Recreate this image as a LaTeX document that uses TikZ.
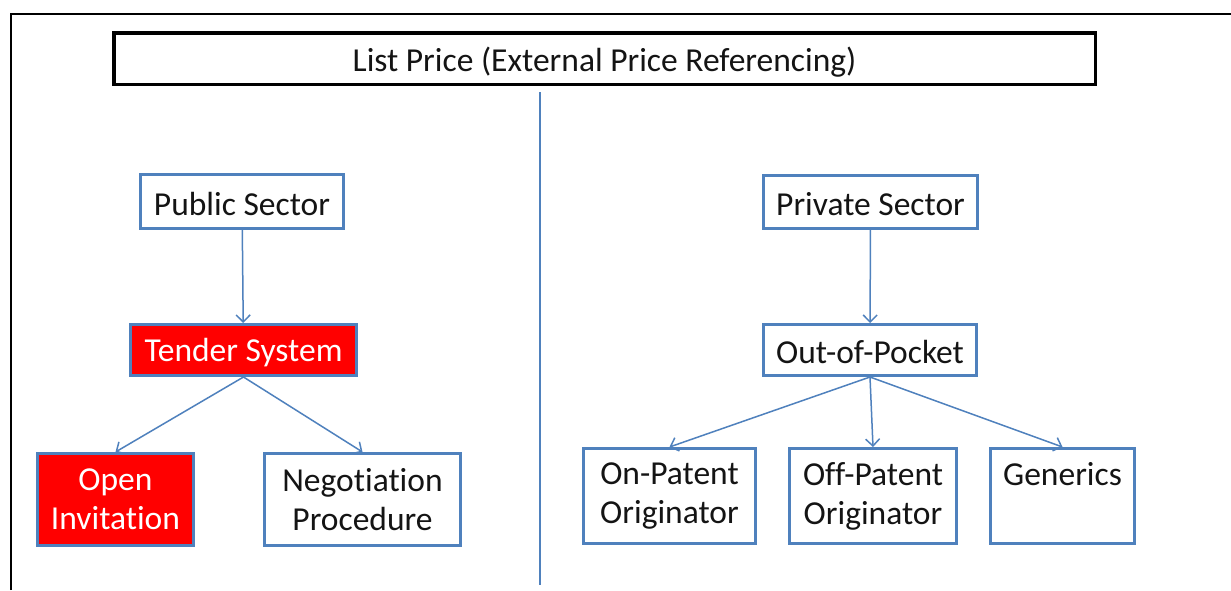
\documentclass[tikz,border=0pt]{standalone}
\usepackage{fontspec}
\setmainfont{Carlito}[Ligatures={NoCommon}]
\usetikzlibrary{arrows.meta}
\definecolor{boxblue}{RGB}{79,129,189}
\definecolor{tred}{RGB}{255,0,0}
\definecolor{txt}{RGB}{20,20,20}
\tikzset{
  bx/.style={draw=boxblue, line width=3pt, fill=white, inner sep=0pt, align=center,
    text=txt, font=\fontsize{33.5}{39}\selectfont,
    execute at begin node={\rule{0pt}{28pt}}},
  redbx/.style={bx, fill=tred, text=white},
  titlebx/.style={draw=black, line width=3.5pt, inner sep=0pt, align=center,
    text=txt, font=\fontsize{33.5}{39}\selectfont,
    execute at begin node={\rule{0pt}{32pt}}},
  conn/.style={draw=boxblue, line width=1.5pt,
    -{Straight Barb[length=7pt,width=14pt,line width=1.5pt]}},
}
\begin{document}
\begin{tikzpicture}[x=1pt,y=-1pt]
\useasboundingbox (0,0) rectangle (1231,590);
\fill[white] (0,0) rectangle (1231,590);
% outer frame
\draw[line width=2.5pt, black] (11,590) -- (11,14) -- (1231,14);
% title
\node[titlebx, minimum width=981.5pt, minimum height=51.5pt] (title) at (604.5,58.5) {List Price (External Price Referencing)};
% divider
\coordinate (dtop) at (540,92);
\coordinate (dbot) at (540,585);
\draw[boxblue, line width=1.5pt] (dtop) -- (dbot);
% left side
\node[bx, minimum width=203pt, minimum height=54pt] (pub) at (242,201.5) {Public Sector};
\node[redbx, minimum width=226pt, minimum height=51pt] (tender) at (243.5,350) {Tender System};
\node[redbx, minimum width=156pt, minimum height=92pt] (open) at (115.5,499.5) {Open\\Invitation};
\node[bx, minimum width=196pt, minimum height=92pt] (neg) at (362.5,499.5) {Negotiation\\Procedure};
% right side
\node[bx, minimum width=214pt, minimum height=53pt] (priv) at (870.5,202) {Private Sector};
\node[bx, minimum width=213pt, minimum height=51pt] (oop) at (870,350) {Out-of-Pocket};
\node[bx, minimum width=172pt, minimum height=95pt] (onp) at (669.5,496) {On-Patent\\Originator};
\node[bx, minimum width=167pt, minimum height=95pt] (offp) at (873,496) {Off-Patent\\Originator};
\node[bx, minimum width=144pt, minimum height=95pt] (gen) at (1062.5,496) {Generics\\\phantom{Originator}};
% connectors
\draw[conn] (pub) -- (tender);
\draw[conn] (tender.south) -- (open.north);
\draw[conn] (tender.south) -- (neg.north);
\draw[conn] (priv) -- (oop);
\draw[conn] (oop.south) -- (onp.north);
\draw[conn] (oop.south) -- (offp.north);
\draw[conn] (oop.south) -- (gen.north);
\end{tikzpicture}
\end{document}
